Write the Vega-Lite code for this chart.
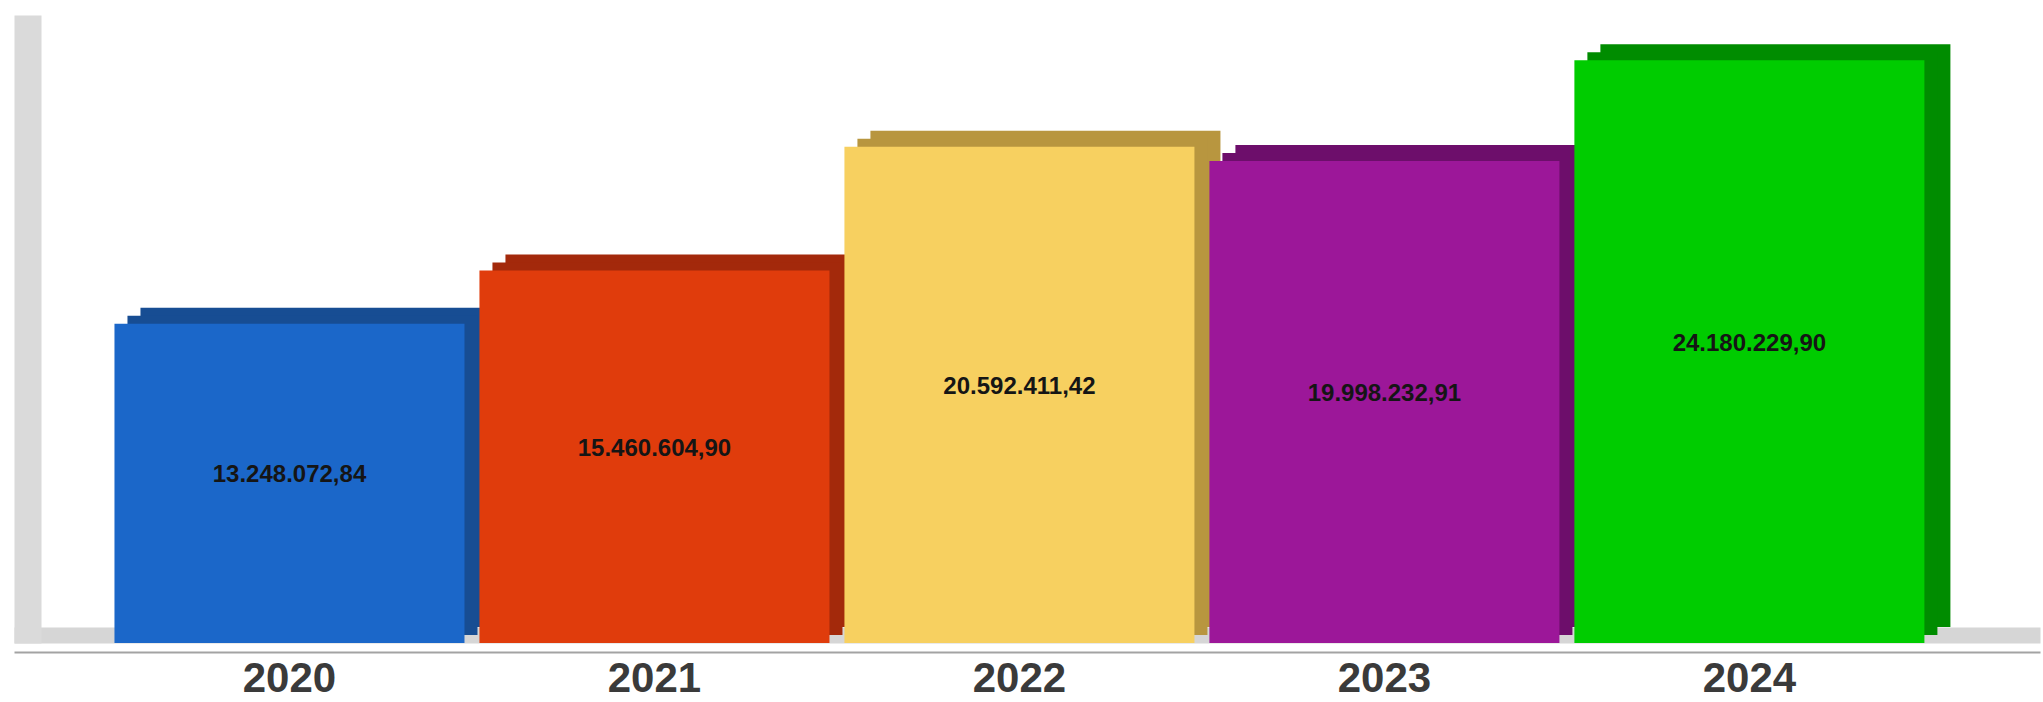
{
  "$schema": "https://vega.github.io/schema/vega-lite/v6.json",
  "width": 2026,
  "height": 628,
  "autosize": {"type": "none"},
  "padding": {"left": 14, "top": 15, "right": 3, "bottom": 59},
  "background": "#ffffff",
  "config": {"view": {"stroke": null}},
  "data": {
    "values": [
      {"year": "2020", "value": 13248072.84, "label": "13.248.072,84"},
      {"year": "2021", "value": 15460604.90, "label": "15.460.604,90"},
      {"year": "2022", "value": 20592411.42, "label": "20.592.411,42"},
      {"year": "2023", "value": 19998232.91, "label": "19.998.232,91"},
      {"year": "2024", "value": 24180229.90, "label": "24.180.229,90"}
    ]
  },
  "layer": [
    {
      "mark": {"type": "bar", "xOffset": 26, "x2Offset": 26, "yOffset": -16, "y2Offset": -16},
      "encoding": {
        "x": {
          "field": "year", "type": "ordinal",
          "scale": {"paddingInner": 0.041, "paddingOuter": 0.296, "align": 0.465},
          "axis": {"orient": "bottom", "title": null, "ticks": false, "domain": true, "domainColor": "#a3a3a3", "domainWidth": 2, "offset": 9, "grid": false, "labelAngle": 0, "labelFont": "Liberation Sans", "labelFontWeight": "bold", "labelFontSize": 42, "labelColor": "#3a3a3a", "labelPadding": 6}
        },
        "y": {
          "field": "value", "type": "quantitative",
          "scale": {"domain": [0, 26060000], "nice": false, "zero": true},
          "axis": {"orient": "left", "title": null, "labels": false, "ticks": false, "grid": true, "values": [332000], "gridColor": "#d6d6d6", "gridWidth": 16, "gridOpacity": 1, "domain": true, "domainColor": "#dadada", "domainWidth": 27, "domainCap": "butt", "offset": -13.5}
        },
        "color": {
          "field": "year", "type": "nominal", "legend": null,
          "scale": {"domain": ["2020", "2021", "2022", "2023", "2024"], "range": ["#174d93", "#a3290b", "#b8963f", "#6d0e6b", "#008c00"]}
        }
      }
    },
    {
      "mark": {"type": "bar", "xOffset": 13, "x2Offset": 13, "yOffset": -8, "y2Offset": -8},
      "encoding": {
        "x": {"field": "year", "type": "ordinal"},
        "y": {"field": "value", "type": "quantitative", "scale": {"domain": [0, 26060000], "nice": false, "zero": true}, "axis": null},
        "color": {
          "field": "year", "type": "nominal", "legend": null,
          "scale": {"domain": ["2020", "2021", "2022", "2023", "2024"], "range": ["#174d93", "#a3290b", "#b8963f", "#6d0e6b", "#008c00"]}
        }
      }
    },
    {
      "mark": {"type": "bar"},
      "encoding": {
        "x": {"field": "year", "type": "ordinal"},
        "y": {"field": "value", "type": "quantitative", "scale": {"domain": [0, 26060000], "nice": false, "zero": true}, "axis": null},
        "color": {
          "field": "year", "type": "nominal", "legend": null,
          "scale": {"domain": ["2020", "2021", "2022", "2023", "2024"], "range": ["#1b67c9", "#e03c0c", "#f7d060", "#9c1799", "#00cc00"]}
        }
      }
    },
    {
      "mark": {"type": "text", "font": "Liberation Sans", "fontWeight": "bold", "fontSize": 24, "color": "#151515", "dy": -8, "baseline": "middle", "align": "center"},
      "encoding": {
        "x": {"field": "year", "type": "ordinal"},
        "y": {
          "field": "value", "type": "quantitative",
          "scale": {"domain": [0, 52120000], "nice": false, "zero": true},
          "axis": null
        },
        "text": {"field": "label", "type": "nominal"}
      }
    }
  ],
  "resolve": {"scale": {"color": "independent", "y": "independent"}}
}
